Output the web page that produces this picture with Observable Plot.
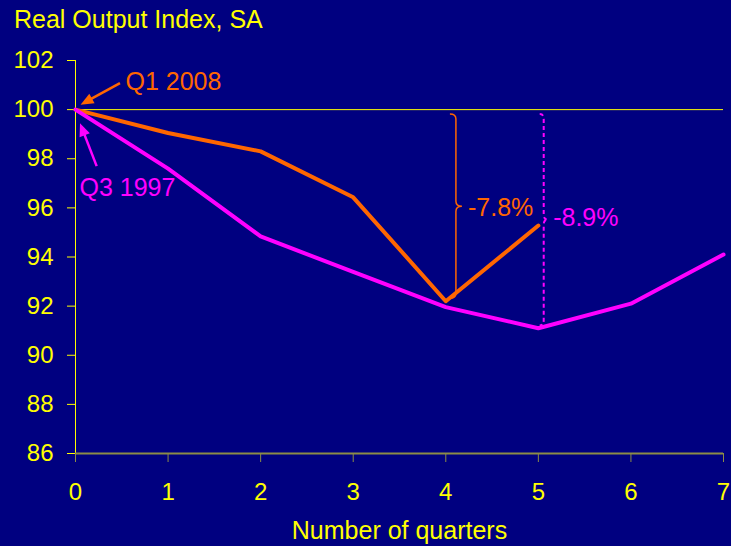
<!DOCTYPE html>
<html>
<head>
<meta charset="utf-8">
<script src="https://cdn.jsdelivr.net/npm/d3@7"></script>
<script src="https://cdn.jsdelivr.net/npm/@observablehq/plot@0.6"></script>
<style>
  html, body { margin: 0; padding: 0; background: #000080; }
  #wrap { position: relative; width: 731px; height: 546px; overflow: hidden; }
  #title { position: absolute; left: 14px; top: 7px; font: 25px/25px "Liberation Sans", Arial, sans-serif; color: #ffff00; white-space: nowrap; }
</style>
</head>
<body>
<div id="wrap">
  <div id="title">Real Output Index, SA</div>
  <div id="chart"></div>
</div>
<script>
// Data
const quarters = [0, 1, 2, 3, 4, 5, 6, 7];
const q1_2008 = [100, 99.05, 98.3, 96.43, 92.2, 95.28];
const q3_1997 = [100, 97.6, 94.84, 93.39, 91.96, 91.1, 92.1, 94.1];
const yTicks = [86, 88, 90, 92, 94, 96, 98, 100, 102];
const xTicks = [0, 1, 2, 3, 4, 5, 6, 7];
const seriesNames = ["Q1 2008", "Q3 1997"];
const declineLabels = ["-7.8%", "-8.9%"];

const ORANGE = "#ff6600", MAGENTA = "#ff00ff", YELLOW = "#ffff00";

const rows = [];
q1_2008.forEach((v, i) => rows.push({series: seriesNames[0], q: quarters[i], v}));
q3_1997.forEach((v, i) => rows.push({series: seriesNames[1], q: quarters[i], v}));

// annotation anchors (data coordinates)
const seriesLabels = [
  {text: seriesNames[0], x: 0.54, y: 101.14, color: ORANGE},
  {text: seriesNames[1], x: 0.043, y: 96.79, color: MAGENTA}
];
const arrows = [
  {x1: 0.486, y1: 101.06, x2: 0.06, y2: 100.18, color: ORANGE},
  {x1: 0.234, y1: 97.68, x2: 0.054, y2: 99.43, color: MAGENTA}
];
const braces = [
  {x: 4.05, y1: 99.8, y2: 92.3, color: ORANGE, w: 6, dash: null, sw: 1.5},
  {x: 5.02, y1: 99.8, y2: 91.2, color: MAGENTA, w: 4, dash: "4,3", sw: 2}
];
const braceLabels = [
  {text: declineLabels[0], x: 4.24, y: 96.0, color: ORANGE},
  {text: declineLabels[1], x: 5.16, y: 95.57, color: MAGENTA}
];

function braceMark(index, scales) {
  const g = d3.create("svg:g");
  for (const b of braces) {
    const x0 = scales.x(b.x), y1 = scales.y(b.y1), y2 = scales.y(b.y2);
    const ym = (y1 + y2) / 2, w = b.w, r = 5;
    const d = `M${x0},${y1} Q${x0 + w},${y1} ${x0 + w},${y1 + r} L${x0 + w},${ym - r} Q${x0 + w},${ym} ${x0 + 2 * w},${ym} Q${x0 + w},${ym} ${x0 + w},${ym + r} L${x0 + w},${y2 - r} Q${x0 + w},${y2} ${x0},${y2}`;
    const p = g.append("path").attr("d", d).attr("fill", "none")
      .attr("stroke", b.color).attr("stroke-width", b.sw);
    if (b.dash) p.attr("stroke-dasharray", b.dash);
  }
  return g.node();
}

function arrowMark(index, scales) {
  const g = d3.create("svg:g");
  const L = 13, W = 5.5;
  for (const a of arrows) {
    const x1 = scales.x(a.x1), y1 = scales.y(a.y1), x2 = scales.x(a.x2), y2 = scales.y(a.y2);
    const dx = x2 - x1, dy = y2 - y1, len = Math.hypot(dx, dy);
    const ux = dx / len, uy = dy / len;
    const bx = x2 - ux * L, by = y2 - uy * L;
    g.append("line").attr("x1", x1).attr("y1", y1).attr("x2", bx + ux * 2).attr("y2", by + uy * 2)
      .attr("stroke", a.color).attr("stroke-width", 2.5);
    g.append("path")
      .attr("d", `M${x2},${y2} L${bx - uy * W},${by + ux * W} L${bx + uy * W},${by - ux * W} Z`)
      .attr("fill", a.color);
  }
  return g.node();
}

const chart = Plot.plot({
  width: 731,
  height: 546,
  marginLeft: 75,
  marginRight: 8,
  marginTop: 60,
  marginBottom: 93,
  style: {background: "#000080", color: YELLOW, fontFamily: "'Liberation Sans', Arial, sans-serif", fontSize: "24px", overflow: "visible"},
  x: {domain: [0, 7]},
  y: {domain: [86, 102]},
  marks: [
    Plot.axisY({ticks: yTicks, tickSize: 8, tickPadding: 14, stroke: YELLOW, fill: YELLOW, fontSize: 24, label: null}),
    Plot.axisX({ticks: xTicks, tickFormat: "d", tickSize: 9, tickPadding: 20, stroke: "#8c8c46", fill: YELLOW, fontSize: 24, label: null}),
    Plot.ruleX([0], {stroke: YELLOW, strokeWidth: 1}),
    Plot.ruleY([86], {stroke: "#8c8c46", strokeWidth: 2}),
    Plot.ruleY([100], {stroke: YELLOW, strokeWidth: 1}),
    Plot.line(rows, {x: "q", y: "v", z: "series", stroke: d => d.series === seriesNames[0] ? ORANGE : MAGENTA, strokeWidth: 4}),
    braceMark,
    arrowMark,
    Plot.text(seriesLabels, {x: "x", y: "y", text: "text", fill: "color", textAnchor: "start", fontSize: 25}),
    Plot.text(braceLabels, {x: "x", y: "y", text: "text", fill: "color", textAnchor: "start", fontSize: 25}),
    Plot.text(["Number of quarters"], {frameAnchor: "bottom", dy: 85, lineAnchor: "bottom", fill: YELLOW, fontSize: 25})
  ]
});
document.getElementById("chart").appendChild(chart);
</script>
</body>
</html>
